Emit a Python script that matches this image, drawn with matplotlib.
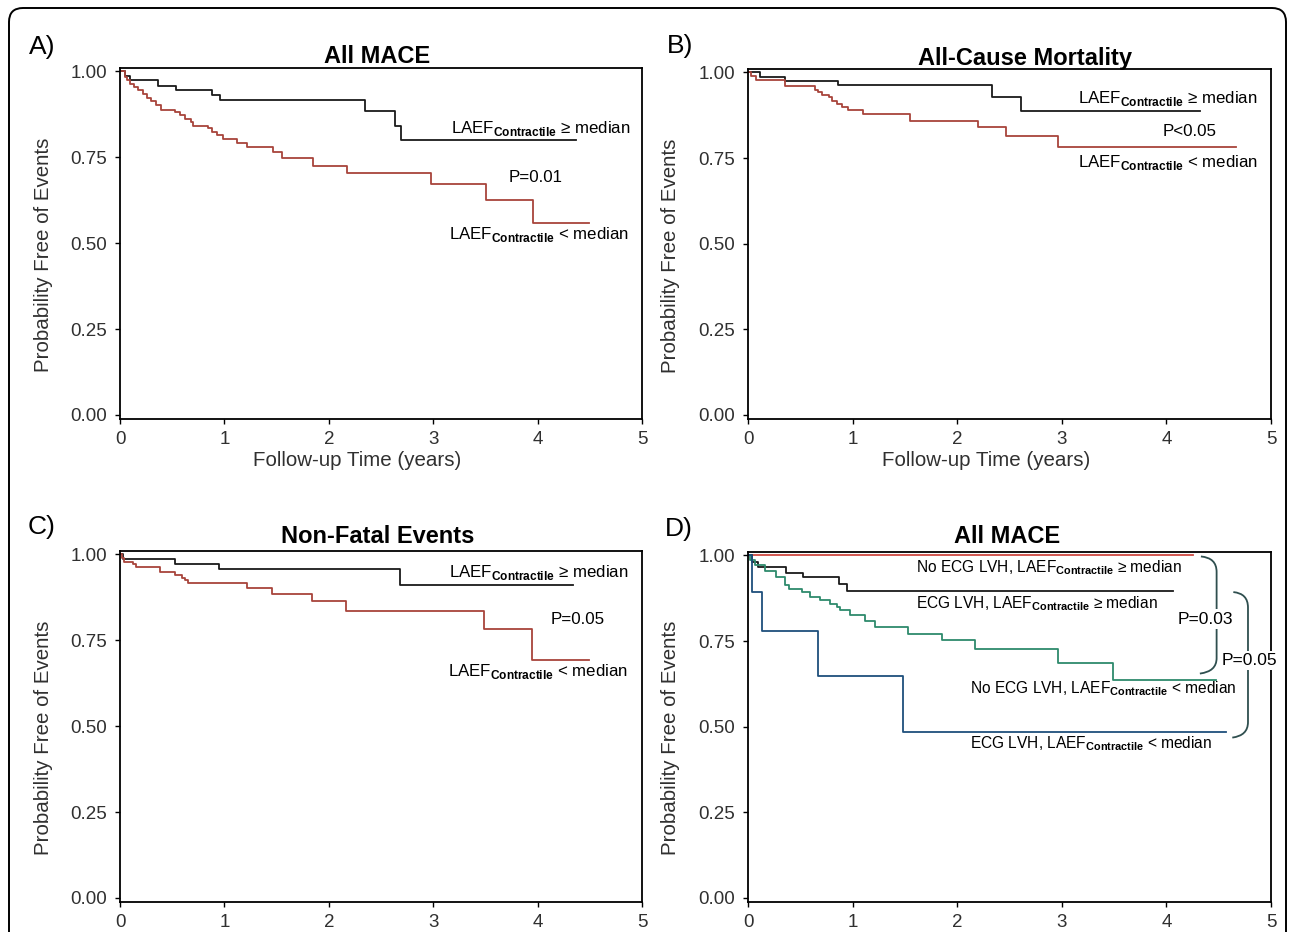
import matplotlib
matplotlib.use("Agg")
import matplotlib.pyplot as plt
from matplotlib.patches import FancyBboxPatch, PathPatch
from matplotlib.path import Path
from matplotlib.transforms import IdentityTransform

plt.rcParams['font.family'] = ['Liberation Sans', 'DejaVu Sans']
plt.rcParams['mathtext.fontset'] = 'custom'
plt.rcParams['mathtext.rm'] = 'Liberation Sans'
plt.rcParams['mathtext.bf'] = 'Liberation Sans:bold'

# ---- data (years, probability free of events) ----
# A) All MACE
a_hi_t = [0, 0.05, 0.10, 0.36, 0.54, 0.88, 0.96, 2.35, 2.63, 2.69, 4.37]
a_hi_s = [1, 0.987, 0.974, 0.959, 0.947, 0.932, 0.916, 0.886, 0.840, 0.800, 0.800]
a_lo_t = [0, 0.048, 0.070, 0.096, 0.134, 0.176, 0.217, 0.255, 0.294, 0.345, 0.390,
          0.527, 0.575, 0.623, 0.677, 0.702, 0.846, 0.878, 0.926, 0.990, 1.117,
          1.213, 1.469, 1.549, 1.852, 2.171, 2.98, 3.51, 3.96, 4.49]
a_lo_s = [1, 0.985, 0.974, 0.964, 0.954, 0.945, 0.935, 0.922, 0.913, 0.901, 0.888,
          0.881, 0.872, 0.861, 0.852, 0.842, 0.835, 0.825, 0.816, 0.803, 0.793,
          0.779, 0.764, 0.748, 0.726, 0.704, 0.673, 0.627, 0.559, 0.559]

# B) All-Cause Mortality
b_hi_t = [0, 0.11, 0.35, 0.86, 2.33, 2.61, 4.32]
b_hi_s = [1, 0.986, 0.974, 0.964, 0.928, 0.887, 0.887]
b_lo_t = [0, 0.03, 0.08, 0.35, 0.64, 0.67, 0.71, 0.77, 0.80, 0.85, 0.90, 0.96,
          1.10, 1.55, 2.20, 2.47, 2.96, 4.67]
b_lo_s = [1, 0.990, 0.979, 0.960, 0.950, 0.943, 0.935, 0.927, 0.918, 0.909, 0.899,
          0.891, 0.880, 0.858, 0.840, 0.815, 0.781, 0.781]

# C) Non-Fatal Events
c_hi_t = [0, 0.03, 0.53, 0.95, 2.68, 4.34]
c_hi_s = [1, 0.986, 0.973, 0.957, 0.911, 0.911]
c_lo_t = [0, 0.02, 0.04, 0.128, 0.153, 0.383, 0.527, 0.59, 0.62, 0.655, 1.213,
          1.459, 1.836, 2.165, 3.49, 3.95, 4.49]
c_lo_s = [1, 0.99, 0.979, 0.971, 0.964, 0.950, 0.940, 0.930, 0.925, 0.918, 0.903,
          0.884, 0.864, 0.835, 0.782, 0.694, 0.694]

# D) All MACE by ECG LVH
d_nolvh_hi_t = [0, 4.25]
d_nolvh_hi_s = [1, 1]
d_lvh_hi_t = [0, 0.04, 0.10, 0.36, 0.53, 0.87, 0.95, 4.06]
d_lvh_hi_s = [1, 0.980, 0.965, 0.950, 0.936, 0.918, 0.895, 0.895]
d_nolvh_lo_t = [0, 0.02, 0.067, 0.163, 0.268, 0.354, 0.395, 0.513, 0.593, 0.688,
                0.784, 0.848, 0.880, 0.975, 1.119, 1.214, 1.533, 1.852, 2.170,
                2.96, 3.49, 4.47]
d_nolvh_lo_s = [1, 0.986, 0.971, 0.954, 0.937, 0.913, 0.903, 0.893, 0.879, 0.869,
                0.859, 0.850, 0.840, 0.827, 0.808, 0.791, 0.772, 0.752, 0.726,
                0.687, 0.636, 0.636]
d_lvh_lo_t = [0, 0.035, 0.13, 0.67, 1.48, 4.57]
d_lvh_lo_s = [1, 0.892, 0.779, 0.648, 0.483, 0.483]

x_ticks = [0, 1, 2, 3, 4, 5]
y_ticks = [0.0, 0.25, 0.5, 0.75, 1.0]
y_ticklabels = ["0.00", "0.25", "0.50", "0.75", "1.00"]

W, H = 1293, 932
fig = plt.figure(figsize=(W / 100, H / 100), dpi=100)
fig.patch.set_facecolor("white")

# rounded frame round the whole figure
frame = FancyBboxPatch((9, -60), 1277, 932 - 8 + 60, boxstyle="round,pad=0,rounding_size=14",
                       transform=IdentityTransform(), fill=False, edgecolor="black", lw=1.4)
fig.add_artist(frame)


def add_axes(l, r, t, b):
    return fig.add_axes([l / W, 1 - b / H, (r - l) / W, (b - t) / H])


def px(x, y):
    return x / W, 1 - y / H


tick_col = "#303030"
red = "#a8443b"
hi_lab = "LAEF$_{\\mathbf{Contractile}}$ \u2265 median"
lo_lab = "LAEF$_{\\mathbf{Contractile}}$ < median"


def style(ax, letter, lpos, title, tpos, ylab_x, ylab_y, xlab=None):
    ax.set_xlim(0, 5)
    ax.set_ylim(-0.012, 1.01)
    ax.set_xticks(x_ticks)
    ax.set_yticks(y_ticks)
    ax.set_yticklabels(y_ticklabels)
    ax.tick_params(direction="out", length=3.5, width=1, labelsize=13.5,
                   labelcolor=tick_col, pad=6)
    ax.tick_params(axis="x", pad=5)
    for s in ax.spines.values():
        s.set_linewidth(1.3)
        s.set_color("black")
    fig.text(*px(*lpos), letter, fontsize=19, ha="left", va="baseline")
    fig.text(*px(*tpos), title, fontsize=17, fontweight="bold", ha="center", va="baseline")
    ax.set_ylabel("Probability Free of Events", fontsize=14.8, color=tick_col, va="center")
    ax.yaxis.set_label_coords(*px(ylab_x, ylab_y), transform=fig.transFigure)
    if xlab is not None:
        ax.set_xlabel("Follow-up Time (years)", fontsize=14.8, color=tick_col, va="center")
        ax.xaxis.set_label_coords(*px(*xlab), transform=fig.transFigure)


# ---- A ----
axA = add_axes(120, 642, 68, 419)
axA.step(a_hi_t, a_hi_s, where="post", color="#1a1a1a", lw=1.3)
axA.step(a_lo_t, a_lo_s, where="post", color=red, lw=1.3)
style(axA, "A)", (29, 54), "All MACE", (377, 63), 44, 255, (357, 460))
axA.text(4.885, 0.822, hi_lab, fontsize=12.2, ha="right", va="baseline")
axA.text(3.98, 0.677, "P=0.01", fontsize=12.2, ha="center", va="baseline")
axA.text(4.875, 0.5125, lo_lab, fontsize=12.2, ha="right", va="baseline")

# ---- B ----
axB = add_axes(748, 1271, 69, 419)
axB.step(b_hi_t, b_hi_s, where="post", color="#1a1a1a", lw=1.3)
axB.step(b_lo_t, b_lo_s, where="post", color=red, lw=1.3)
style(axB, "B)", (667, 53), "All-Cause Mortality", (1025, 65), 671, 256, (986, 460))
axB.text(4.87, 0.911, hi_lab, fontsize=12.2, ha="right", va="baseline")
axB.text(4.22, 0.814, "P<0.05", fontsize=12.2, ha="center", va="baseline")
axB.text(4.88, 0.7225, lo_lab, fontsize=12.2, ha="right", va="baseline")

# ---- C ----
axC = add_axes(120, 642, 551, 902)
axC.step(c_hi_t, c_hi_s, where="post", color="#1a1a1a", lw=1.3)
axC.step(c_lo_t, c_lo_s, where="post", color=red, lw=1.3)
style(axC, "C)", (28, 534), "Non-Fatal Events", (378, 543), 44, 738)
axC.text(4.87, 0.934, hi_lab, fontsize=12.2, ha="right", va="baseline")
axC.text(4.385, 0.798, "P=0.05", fontsize=12.2, ha="center", va="baseline")
axC.text(4.87, 0.645, lo_lab, fontsize=12.2, ha="right", va="baseline")

# ---- D ----
axD = add_axes(748, 1271, 552, 902)
axD.step(d_nolvh_hi_t, d_nolvh_hi_s, where="post", color="#d04a42", lw=1.3)
axD.step(d_lvh_hi_t, d_lvh_hi_s, where="post", color="#1a1a1a", lw=1.3)
axD.step(d_nolvh_lo_t, d_nolvh_lo_s, where="post", color="#2e8a6c", lw=1.3)
axD.step(d_lvh_lo_t, d_lvh_lo_s, where="post", color="#1f4f7c", lw=1.3)
style(axD, "D)", (665, 536), "All MACE", (1007, 543), 671, 738)
axD.text(1.61, 0.952, "No ECG LVH, " + hi_lab, fontsize=11.2, ha="left", va="baseline")
axD.text(1.61, 0.847, "ECG LVH, " + hi_lab, fontsize=11.2, ha="left", va="baseline")
axD.text(2.12, 0.597, "No ECG LVH, " + lo_lab, fontsize=11.2, ha="left", va="baseline")
axD.text(2.12, 0.436, "ECG LVH, " + lo_lab, fontsize=11.2, ha="left", va="baseline")

# brackets joining the compared groups
br_col = "#2f4f4f"
for (x0, x1, ytop, ybot) in [(4.33, 4.48, 0.997, 0.655), (4.64, 4.78, 0.893, 0.468)]:
    verts = [(x0, ytop), (x1, ytop - 0.004), (x1, ytop - 0.045),
             (x1, ybot + 0.045), (x1, ybot + 0.006), (x0 - 0.01, ybot)]
    codes = [Path.MOVETO, Path.CURVE3, Path.CURVE3, Path.LINETO, Path.CURVE3, Path.CURVE3]
    axD.add_patch(PathPatch(Path(verts, codes), fill=False, edgecolor=br_col, lw=1.3,
                            clip_on=False, zorder=3))

wbox = dict(facecolor="white", edgecolor="none", pad=1.5)
axD.text(4.37, 0.801, "P=0.03", fontsize=12.5, ha="center", va="baseline", bbox=wbox,
         zorder=5, clip_on=False)
axD.text(4.79, 0.679, "P=0.05", fontsize=12.5, ha="center", va="baseline", bbox=wbox,
         zorder=5, clip_on=False)

fig.savefig("out.png", dpi=100)
